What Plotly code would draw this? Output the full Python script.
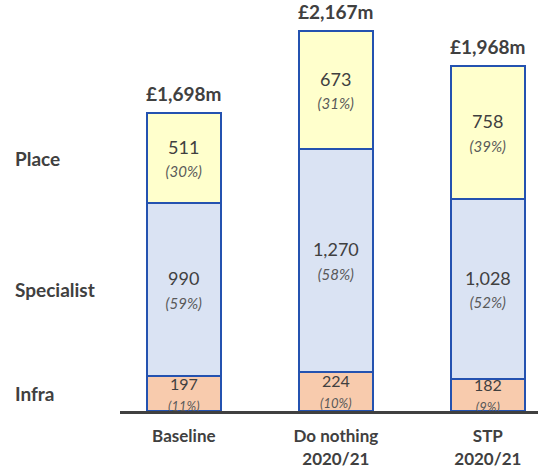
import plotly.graph_objects as go

categories = ["Baseline", "Do nothing<br>2020/21", "STP<br>2020/21"]
segments = ["Infra", "Specialist", "Place"]
infra = [197, 224, 182]
specialist = [990, 1270, 1028]
place = [511, 673, 758]
infra_pct = [11, 10, 9]
specialist_pct = [59, 58, 52]
place_pct = [30, 31, 39]
totals = [1698, 2167, 1968]

colors = {"Infra": "#F8CBAD", "Specialist": "#DAE3F3", "Place": "#FFFFCC"}
outline = "#2452B0"
text_dark = "#404040"
font_family = "Lato, 'Open Sans', sans-serif"

x = [0, 1, 2]
series = {
    "Infra": (infra, infra_pct),
    "Specialist": (specialist, specialist_pct),
    "Place": (place, place_pct),
}
# the infra slices are thin, so their labels are a touch smaller
value_size = {"Infra": 16, "Specialist": 18, "Place": 18}
pct_size = {"Infra": 13, "Specialist": 15, "Place": 15}

fig = go.Figure()

for name in segments:
    values, pcts = series[name]
    labels = [
        f"{v:,}<br><span style='font-size:{pct_size[name]}px;color:#595959'><i>({p}%)</i></span>"
        for v, p in zip(values, pcts)
    ]
    fig.add_trace(go.Bar(
        x=x,
        y=values,
        name=name,
        width=0.49,
        marker=dict(color=colors[name], line=dict(color=outline, width=2)),
        text=labels,
        textposition="inside",
        insidetextanchor="middle",
        constraintext="none",
        cliponaxis=False,
        textangle=0,
        textfont=dict(family=font_family, size=value_size[name], color=text_dark),
        hoverinfo="skip",
    ))

# totals above each bar
for xi, t in zip(x, totals):
    fig.add_annotation(
        x=xi, y=t, text=f"<b>£{t:,}m</b>", showarrow=False,
        yanchor="bottom", yshift=6,
        font=dict(family=font_family, size=19, color=text_dark),
    )

# segment names on the left, level with the baseline bar
bottoms = [0, infra[0], infra[0] + specialist[0]]
for name, b in zip(segments, bottoms):
    mid = b + series[name][0][0] / 2
    fig.add_annotation(
        x=-0.256, xref="paper", y=mid, yref="y", text=f"<b>{name}</b>",
        showarrow=False, xanchor="left",
        font=dict(family=font_family, size=19, color=text_dark),
    )

fig.update_layout(
    barmode="stack",
    width=538,
    height=475,
    margin=dict(l=120, r=0, t=20, b=64, autoexpand=False),
    plot_bgcolor="white",
    paper_bgcolor="white",
    showlegend=False,
    font=dict(family=font_family, color=text_dark),
)
fig.update_xaxes(
    range=[-0.42, 2.33],
    tickvals=x,
    ticktext=[f"<b>{c}</b>" for c in categories],
    tickfont=dict(family=font_family, size=17, color=text_dark),
    ticklabelstandoff=8,
    showline=True, linecolor="#404040", linewidth=3,
    showgrid=False, zeroline=False, ticks="", automargin=False,
)
fig.update_yaxes(range=[0, 2230], visible=False, showgrid=False, automargin=False)

fig.write_html(
    "out.html",
    config={"displayModeBar": False},
    post_script="document.body.style.margin='0';",
)
